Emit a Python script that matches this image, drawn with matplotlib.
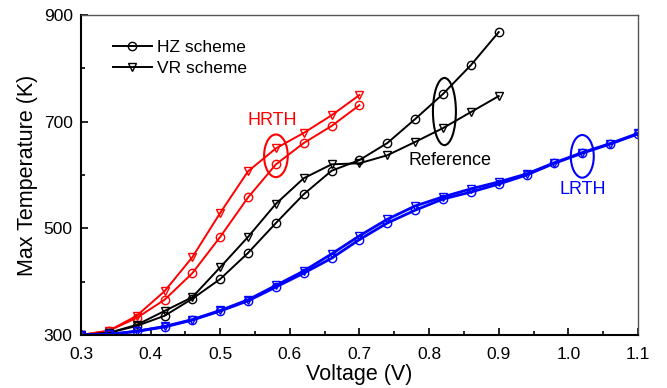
import matplotlib.pyplot as plt
from matplotlib.patches import Ellipse

plt.rcParams['font.family'] = ['Liberation Sans', 'DejaVu Sans']

# voltage sweep (V)
v_hrth = [0.30, 0.34, 0.38, 0.42, 0.46, 0.50, 0.54, 0.58, 0.62, 0.66, 0.70]
v_ref = [0.30, 0.34, 0.38, 0.42, 0.46, 0.50, 0.54, 0.58, 0.62, 0.66, 0.70,
         0.74, 0.78, 0.82, 0.86, 0.90]
v_lrth = [0.30, 0.34, 0.38, 0.42, 0.46, 0.50, 0.54, 0.58, 0.62, 0.66, 0.70,
          0.74, 0.78, 0.82, 0.86, 0.90, 0.94, 0.98, 1.02, 1.06, 1.10]

# max temperature (K)
hrth_hz = [300, 308, 332, 366, 416, 484, 558, 620, 660, 692, 731]
hrth_vr = [300, 308, 336, 382, 446, 529, 607, 650, 679, 712, 750]
ref_hz = [300, 304, 317, 336, 368, 405, 454, 510, 564, 608, 628,
          660, 705, 752, 806, 868]
ref_vr = [300, 304, 319, 345, 371, 427, 484, 546, 594, 620, 622,
          637, 662, 688, 718, 748]
lrth_hz = [300, 301, 307, 315, 328, 345, 364, 390, 416, 444, 479,
           510, 534, 555, 568, 583, 600, 622, 641, 658, 677]
lrth_vr = [300, 301, 307, 316, 329, 346, 366, 393, 420, 452, 486,
           517, 542, 559, 574, 587, 602, 623, 642, 659, 678]

x_ticks = [0.3, 0.4, 0.5, 0.6, 0.7, 0.8, 0.9, 1.0, 1.1]
x_labels = ['0.3', '0.4', '0.5', '0.6', '0.7', '0.8', '0.9', '1.0', '1.1']
y_ticks = [300, 500, 700, 900]

fig = plt.figure(figsize=(6.67, 3.88), dpi=100)
ax = fig.add_axes([0.1214, 0.1366, 0.8351, 0.8247])

mk = dict(markerfacecolor='none', markersize=6, markeredgewidth=1.0)
ax.plot(v_hrth, hrth_hz, '-o', color='red', lw=1.4, **mk)
ax.plot(v_hrth, hrth_vr, '-v', color='red', lw=1.4, **mk)
ax.plot(v_ref, ref_hz, '-o', color='black', lw=1.4, **mk)
ax.plot(v_ref, ref_vr, '-v', color='black', lw=1.4, **mk)
ax.plot(v_lrth, lrth_hz, '-o', color='blue', lw=2.0, **mk)
ax.plot(v_lrth, lrth_vr, '-v', color='blue', lw=2.0, **mk)

# legend entries in black
h1, = ax.plot([], [], '-o', color='black', lw=1.4, **mk)
h2, = ax.plot([], [], '-v', color='black', lw=1.4, **mk)
ax.legend([h1, h2], ['HZ scheme', 'VR scheme'], loc='upper left',
          bbox_to_anchor=(0.03, 0.97), frameon=False, fontsize=12.5,
          handlelength=2.2, handletextpad=0.3, labelspacing=0.3)

# group markers
ax.add_patch(Ellipse((0.58, 636), 0.034, 80, fill=False, color='red', lw=1.5))
ax.add_patch(Ellipse((0.822, 719), 0.033, 126, fill=False, color='black', lw=1.5))
ax.add_patch(Ellipse((1.02, 635), 0.033, 80, fill=False, color='blue', lw=1.5))
ax.text(0.574, 703, 'HRTH', color='red', fontsize=13, ha='center', va='center')
ax.text(0.83, 628, 'Reference', color='black', fontsize=13, ha='center', va='center')
ax.text(1.021, 572, 'LRTH', color='blue', fontsize=13, ha='center', va='center')

ax.set_xlim(0.3, 1.1)
ax.set_ylim(300, 900)
ax.set_xticks(x_ticks)
ax.set_xticklabels(x_labels)
ax.set_xticks([0.35, 0.45, 0.55, 0.65, 0.75, 0.85, 0.95, 1.05], minor=True)
ax.set_yticks(y_ticks)
ax.set_yticks([400, 600, 800], minor=True)
ax.tick_params(which='both', direction='in', top=False, right=False,
               labelsize=12.5, width=1.2)
ax.tick_params(which='major', length=5)
ax.tick_params(which='minor', length=3)
ax.tick_params(axis='x', which='major', pad=9)
ax.tick_params(axis='y', which='major', pad=6)
for s in ['left', 'bottom']:
    ax.spines[s].set_linewidth(1.5)
for s in ['top', 'right']:
    ax.spines[s].set_color('#555555')
    ax.spines[s].set_linewidth(1.0)

ax.set_xlabel('Voltage (V)', fontsize=15.5, labelpad=1)
ax.set_ylabel('Max Temperature (K)', fontsize=15.5, labelpad=4)

fig.savefig('out.png', dpi=100)
